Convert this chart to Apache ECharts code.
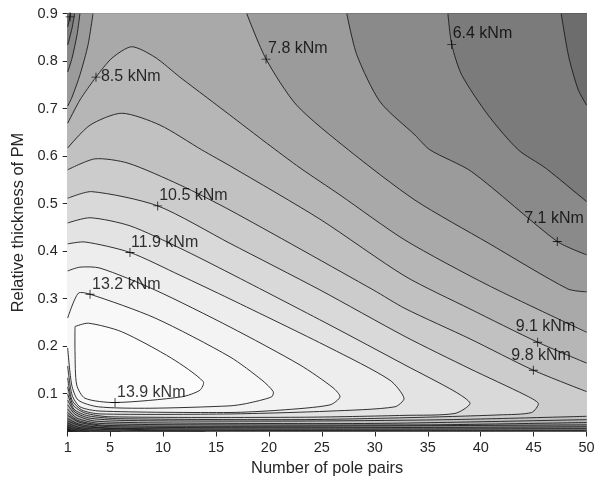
<!DOCTYPE html>
<html>
<head>
<meta charset="utf-8">
<script src="https://cdn.jsdelivr.net/npm/echarts@6/dist/echarts.min.js"></script>
<style>
  html, body { margin: 0; padding: 0; background: #fff; }
  #chart { width: 605px; height: 488px; }
</style>
</head>
<body>
<div id="chart"></div>
<script>
// axis ticks
const xTicks = [1, 5, 10, 15, 20, 25, 30, 35, 40, 45, 50];
const yTicks = [0.1, 0.2, 0.3, 0.4, 0.5, 0.6, 0.7, 0.8, 0.9];

// contour pieces, [pole pairs, relative thickness]
// closed curves around the maximum (upper branch left->tip, lower branch tip->left)
const c139 = [[1.69,0.241],[2.95,0.248],[6.1,0.23],[10.82,0.174],[13.8,0.125],[13.49,0.107],[11.76,0.093],[5.47,0.081],[2.63,0.09],[1.85,0.118],[1.69,0.188],[1.69,0.241]];
const c132Up = [[1,0.259],[2.0,0.311],[3.11,0.309],[9.24,0.259],[16.33,0.177],[19.35,0.128],[20.41,0.104]];
const c132Low = [[20.26,0.093],[17.9,0.079],[16.33,0.074],[8.77,0.069],[3.89,0.072],[2.0,0.086],[1.38,0.118],[1,0.196]];
const c125Up = [[1,0.358],[2.16,0.366],[4.05,0.364],[9.24,0.318],[16.33,0.24],[22.94,0.16],[26.06,0.112],[26.71,0.093]];
const c125Low = [[25.77,0.076],[21.05,0.065],[16.33,0.06],[4.05,0.063],[2.16,0.072],[1.41,0.097],[1,0.158]];
const c119Up = [[1,0.415],[2.63,0.419],[6.88,0.397],[11.6,0.349],[16.33,0.299],[25.77,0.196],[31.43,0.128],[32.76,0.09]];
const c119Low = [[31.9,0.072],[25.77,0.063],[16.33,0.057],[4.05,0.057],[2.35,0.065],[1.41,0.086],[1,0.133]];
const c112Up = [[1,0.459],[3.11,0.47],[6.88,0.453],[11.6,0.406],[16.33,0.353],[25.77,0.244],[32.85,0.16],[37.57,0.104],[38.99,0.079]];
const c112Low = [[37.57,0.058],[32.85,0.054],[22.94,0.05],[4.99,0.051],[2.63,0.059],[1.5,0.076],[1,0.114]];
const c105Up = [[1,0.511],[3.27,0.525],[9.5,0.495],[16.33,0.416],[24.82,0.318],[32.85,0.22],[38.99,0.152],[44.18,0.097],[45.44,0.079]];
const c105Low = [[44.81,0.06],[41.82,0.055],[32.85,0.049],[22.94,0.045],[5.94,0.047],[2.92,0.053],[1.59,0.067],[1,0.099]];

// curves running from the left edge to the right edge
const c98Up = [[1,0.571],[3.58,0.594],[6.69,0.585],[11.6,0.539],[16.33,0.486],[29.86,0.318],[32.85,0.279],[38.99,0.215],[44.97,0.149],[50,0.104]];
const c98Low = [[1,0.086],[1.69,0.061],[3.11,0.048],[6.88,0.043],[22.94,0.042],[37.1,0.045],[50,0.052]];
const c91Up = [[1,0.617],[3.11,0.665],[6.1,0.69],[9.72,0.665],[13.65,0.613],[16.5,0.577],[24.82,0.467],[32.85,0.347],[38.99,0.278],[45.38,0.208],[50,0.164]];
const c91Low = [[1,0.076],[1.78,0.055],[3.58,0.042],[10,0.038],[30,0.037],[50,0.045]];
const c85Up = [[1,0.669],[2.16,0.718],[3.67,0.766],[5.18,0.806],[7.04,0.83],[9.24,0.808],[11.6,0.766],[14.44,0.718],[17.27,0.67],[19.79,0.627],[22.94,0.575],[26.71,0.518],[32.85,0.423],[40.69,0.328],[50,0.229]];
const c85Low = [[1,0.067],[1.88,0.048],[4.05,0.037],[15,0.034],[35,0.034],[50,0.039]];

// curves touching the top edge (top-left corner, top->right edge) plus a bottom curve
const c78TL = [[3.39,0.9],[2.92,0.834],[2.16,0.771],[1.41,0.724],[1,0.705]];
const c78TR = [[17.9,0.9],[19.73,0.804],[22.62,0.707],[27.5,0.613],[33.8,0.507],[40.7,0.417],[48.24,0.32],[50,0.314]];
const c78Low = [[1,0.06],[1.97,0.043],[4.5,0.033],[20,0.031],[50,0.034]];
const c71TL = [[2.16,0.9],[1.88,0.855],[1.41,0.806],[1,0.777]];
const c71TR = [[27.35,0.9],[28.3,0.813],[30.5,0.714],[33.8,0.644],[35.2,0.613],[39.15,0.567],[47.23,0.42],[50,0.392]];
const c71Low = [[1,0.054],[2.16,0.039],[5,0.03],[25,0.028],[50,0.03]];
const c64TL = [[1.65,0.9],[1.4,0.868],[1,0.834]];
const c64TR = [[36.9,0.9],[37.26,0.835],[38.2,0.771],[40.7,0.686],[43.55,0.613],[46.1,0.575],[50,0.504]];
const c64Low = [[1,0.047],[2.16,0.035],[5,0.027],[25,0.025],[50,0.026]];
const c57TL = [[1.3,0.9],[1.22,0.893],[1,0.872]];
const c57TR = [[47.6,0.9],[48.3,0.81],[49.2,0.74],[50,0.707]];
const c57Low = [[1,0.042],[2.6,0.03],[10,0.023],[50,0.022]];

// low levels, from the left edge down to the bottom edge
const c50Low = [[1,0.038],[2.2,0.028],[6,0.023],[14,0.02]];
const c44Low = [[1,0.034],[1.8,0.027],[3.5,0.022],[6,0.02]];
const c37Low = [[1,0.031],[1.5,0.025],[3,0.02]];
const c30Low = [[1,0.028],[1.3,0.023],[1.9,0.02]];
const c23Low = [[1,0.025],[1.4,0.02]];
const c16Low = [[1,0.023],[1.2,0.02]];

// clabel markers: [p, t, text]
const labelPts = [
  [37.26, 0.835, '6.4 kNm'],
  [19.73, 0.804, '7.8 kNm'],
  [3.67, 0.766, '8.5 kNm'],
  [9.5, 0.495, '10.5 kNm'],
  [6.88, 0.397, '11.9 kNm'],
  [3.11, 0.309, '13.2 kNm'],
  [5.47, 0.081, '13.9 kNm'],
  [47.23, 0.42, '7.1 kNm'],
  [45.38, 0.208, '9.1 kNm'],
  [44.97, 0.149, '9.8 kNm'],
  [1.22, 0.893, '']
];
const labelOffsets = [[1,-11],[2,-11],[5,-1],[1.5,-10],[1,-10],[2,-10],[2,-10],[-33,-23],[-22,-16],[-22,-15],[0,0]];

// band colours (grey level of the band above each contour level)
const bandGray = { 1.6: 35, 2.3: 50, 3.0: 65, 3.7: 80, 4.4: 95, 5.0: 109, 5.7: 123, 6.4: 138, 7.1: 155, 7.8: 169,
  8.5: 182, 9.1: 193, 9.8: 204, 10.5: 217, 11.2: 227, 11.9: 237, 12.5: 243, 13.2: 248, 13.9: 252 };

// closing the regions outside the axes box (clipped away)
const PL = 0, PR = 51, TT = 0.95, TB = 0;
const rev = a => a.slice().reverse();
const last = a => a[a.length - 1];

function closed(up, low) {
  return [[PL, up[0][1]], ...up, ...low, [PL, last(low)[1]]];
}
function band(up, low) {
  return [[PL, up[0][1]], ...up, [PR, last(up)[1]], [PR, last(low)[1]], ...rev(low), [PL, low[0][1]]];
}
function cornerBand(tl, tr, low) {
  return [[PL, last(tl)[1]], ...rev(tl), [tl[0][0], TT], [tr[0][0], TT], ...tr,
    [PR, last(tr)[1]], [PR, last(low)[1]], ...rev(low), [PL, low[0][1]]];
}
function above(low) {
  const end = last(low);
  const tail = end[1] <= 0.0201 ? [[end[0], TB], [PR, TB]] : [[PR, end[1]]];
  return [[PL, low[0][1]], ...low, ...tail, [PR, TT], [PL, TT]];
}

const regions = [
  [1.6, above(c16Low)],
  [2.3, above(c23Low)],
  [3.0, above(c30Low)],
  [3.7, above(c37Low)],
  [4.4, above(c44Low)],
  [5.0, above(c50Low)],
  [5.7, cornerBand(c57TL, c57TR, c57Low)],
  [6.4, cornerBand(c64TL, c64TR, c64Low)],
  [7.1, cornerBand(c71TL, c71TR, c71Low)],
  [7.8, cornerBand(c78TL, c78TR, c78Low)],
  [8.5, band(c85Up, c85Low)],
  [9.1, band(c91Up, c91Low)],
  [9.8, band(c98Up, c98Low)],
  [10.5, closed(c105Up, c105Low)],
  [11.2, closed(c112Up, c112Low)],
  [11.9, closed(c119Up, c119Low)],
  [12.5, closed(c125Up, c125Low)],
  [13.2, closed(c132Up, c132Low)],
  [13.9, c139]
];

const lines = [
  c139, c132Up.concat(c132Low), c125Up.concat(c125Low), c119Up.concat(c119Low),
  c112Up.concat(c112Low), c105Up.concat(c105Low),
  c98Up, c98Low, c91Up, c91Low, c85Up, c85Low,
  c78TL, c78TR, c78Low, c71TL, c71TR, c71Low, c64TL, c64TR, c64Low, c57TL, c57TR, c57Low,
  c50Low, c44Low, c37Low, c30Low, c23Low, c16Low
];

function gray(level) {
  const g = bandGray[level] !== undefined ? bandGray[level] : 20;
  return 'rgb(' + g + ',' + g + ',' + g + ')';
}

const SMOOTH = 0.25;
const chart = echarts.init(document.getElementById('chart'));
const axisColor = '#262626';
const font = 'Liberation Sans, Arial, Helvetica, sans-serif';

chart.setOption({
  animation: false,
  grid: { left: 67.7, right: 18.4, top: 13.5, bottom: 56.5, show: true, backgroundColor: gray(0), borderWidth: 0 },
  xAxis: {
    type: 'value', min: 1, max: 50,
    name: 'Number of pole pairs', nameLocation: 'middle', nameGap: 26,
    nameTextStyle: { fontSize: 16.4, color: axisColor, fontFamily: font },
    axisLine: { show: true, lineStyle: { color: axisColor, width: 1 } },
    axisTick: { show: true, length: 5, inside: false, customValues: xTicks, lineStyle: { color: axisColor } },
    axisLabel: { customValues: xTicks, margin: 9, fontSize: 14.5, color: axisColor, fontFamily: font },
    splitLine: { show: false }
  },
  yAxis: {
    type: 'value', min: 0.02, max: 0.9,
    name: 'Relative thickness of PM', nameLocation: 'middle', nameGap: 37,
    nameTextStyle: { fontSize: 16.4, color: axisColor, fontFamily: font },
    axisLine: { show: true, lineStyle: { color: axisColor, width: 1 } },
    axisTick: { show: true, length: 5, inside: false, customValues: yTicks, lineStyle: { color: axisColor } },
    axisLabel: { customValues: yTicks, margin: 10, fontSize: 14.5, color: axisColor, fontFamily: font },
    splitLine: { show: false }
  },
  series: [
    {
      type: 'custom', clip: true, silent: true, z: 1,
      data: regions.map((r, i) => i),
      renderItem: (params, api) => {
        const r = regions[params.dataIndex];
        return {
          type: 'polygon',
          shape: { points: r[1].map(p => api.coord(p)), smooth: SMOOTH },
          style: { fill: gray(r[0]), stroke: null }
        };
      }
    },
    {
      type: 'custom', clip: true, silent: true, z: 2,
      data: lines.map((l, i) => i),
      renderItem: (params, api) => ({
        type: 'polyline',
        shape: { points: lines[params.dataIndex].map(p => api.coord(p)), smooth: SMOOTH },
        style: { fill: null, stroke: '#1c1c1c', lineWidth: 0.9 }
      })
    },
    {
      type: 'scatter', silent: true, z: 3,
      symbol: 'path://M4.5,0h1v4.5h4.5v1h-4.5v4.5h-1v-4.5h-4.5v-1h4.5z',
      symbolSize: 9,
      itemStyle: { color: '#000' },
      data: labelPts.map((d, i) => ({
        value: [d[0], d[1]], name: d[2],
        label: { show: d[2] !== '', position: 'inside', align: 'left', verticalAlign: 'middle', offset: labelOffsets[i] }
      })),
      label: { formatter: p => p.name, fontSize: 16, color: '#000', fontFamily: font }
    }
  ]
});
</script>
</body>
</html>
